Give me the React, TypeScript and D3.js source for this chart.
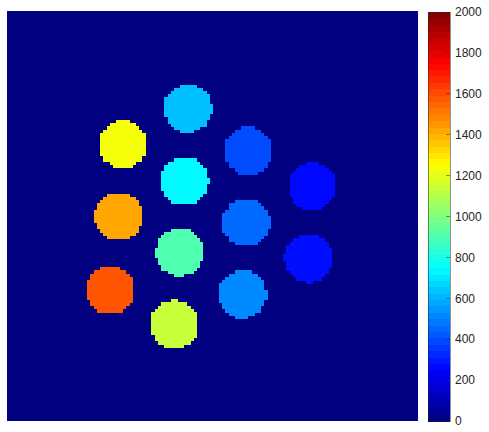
import React from 'react';
import * as d3 from 'd3';

// image grid (pixels) and vial data
const gridSize = 128;
const vialX = [56.3, 36.0, 75.1, 55.2, 94.9, 34.7, 74.4, 53.7, 93.8, 32.1, 73.3, 52.1];
const vialY = [30.4, 41.6, 43.7, 53.1, 54.6, 64.0, 66.0, 75.3, 77.2, 87.1, 88.4, 97.8];
const vialValue = [625, 1230, 395, 740, 265, 1425, 455, 905, 275, 1585, 520, 1140];
const vialRadius = 7.4;
const colorTicks = [0, 200, 400, 600, 800, 1000, 1200, 1400, 1600, 1800, 2000];

// matlab jet
function jet(t: number) {
  const c = (v: number) => Math.round(255 * Math.max(0, Math.min(1, v)));
  const r = c(Math.min(4 * t - 1.5, -4 * t + 4.5));
  const g = c(Math.min(4 * t - 0.5, -4 * t + 3.5));
  const b = c(Math.min(4 * t + 0.5, -4 * t + 2.5));
  return `rgb(${r},${g},${b})`;
}

export default function App() {
  const width = 489;
  const height = 432;
  const img = { left: 7, right: 418, top: 11, bottom: 421 };
  const bar = { left: 428, right: 450, top: 12, bottom: 421 };

  const x = d3.scaleLinear().domain([0, gridSize]).range([img.left, img.right]);
  const y = d3.scaleLinear().domain([0, gridSize]).range([img.top, img.bottom]);
  const norm = d3.scaleLinear().domain([0, 2000]).range([0, 1]).clamp(true);
  const color = (v: number) => jet(norm(v));
  const cy = d3.scaleLinear().domain([0, 2000]).range([bar.bottom, bar.top]);

  // build the non-zero cells from the vial list
  const cells: { i: number; j: number; v: number }[] = [];
  vialX.forEach((cx, k) => {
    const cyy = vialY[k];
    for (let j = Math.floor(cyy - vialRadius - 1); j <= Math.ceil(cyy + vialRadius + 1); j++) {
      for (let i = Math.floor(cx - vialRadius - 1); i <= Math.ceil(cx + vialRadius + 1); i++) {
        const dx = i + 0.5 - cx;
        const dy = j + 0.5 - cyy;
        if (dx * dx + dy * dy <= vialRadius * vialRadius) cells.push({ i, j, v: vialValue[k] });
      }
    }
  });

  const bands = d3.range(64);
  const bandH = (bar.bottom - bar.top) / 64;

  return (
    <svg width={width} height={height} style={{ position: 'absolute', left: 0, top: 0, background: '#fff' }}
      fontFamily="Liberation Sans, Arial, sans-serif">
      <rect x={img.left} y={img.top} width={img.right - img.left} height={img.bottom - img.top} fill={color(0)} />
      <g shapeRendering="crispEdges">
        {cells.map((d, n) => (
          <rect key={n} x={x(d.i)} y={y(d.j)} width={x(d.i + 1) - x(d.i) + 0.5} height={y(d.j + 1) - y(d.j) + 0.5}
            fill={color(d.v)} />
        ))}
      </g>
      <g shapeRendering="crispEdges">
        {bands.map(b => (
          <rect key={b} x={bar.left} y={bar.bottom - (b + 1) * bandH} width={bar.right - bar.left} height={bandH + 0.5}
            fill={jet((b + 0.5) / 64)} />
        ))}
        <rect x={bar.left} y={bar.top} width={bar.right - bar.left} height={bar.bottom - bar.top}
          fill="none" stroke="#262626" strokeWidth={0.5} />
        {colorTicks.map(t => (
          <line key={t} x1={bar.right - 4} x2={bar.right} y1={cy(t)} y2={cy(t)} stroke="#262626" strokeWidth={0.5} />
        ))}
      </g>
      {colorTicks.map(t => (
        <text key={t} x={bar.right + 5} y={cy(t)} dy="0.35em" fontSize={12} fill="#262626">{t}</text>
      ))}
    </svg>
  );
}
